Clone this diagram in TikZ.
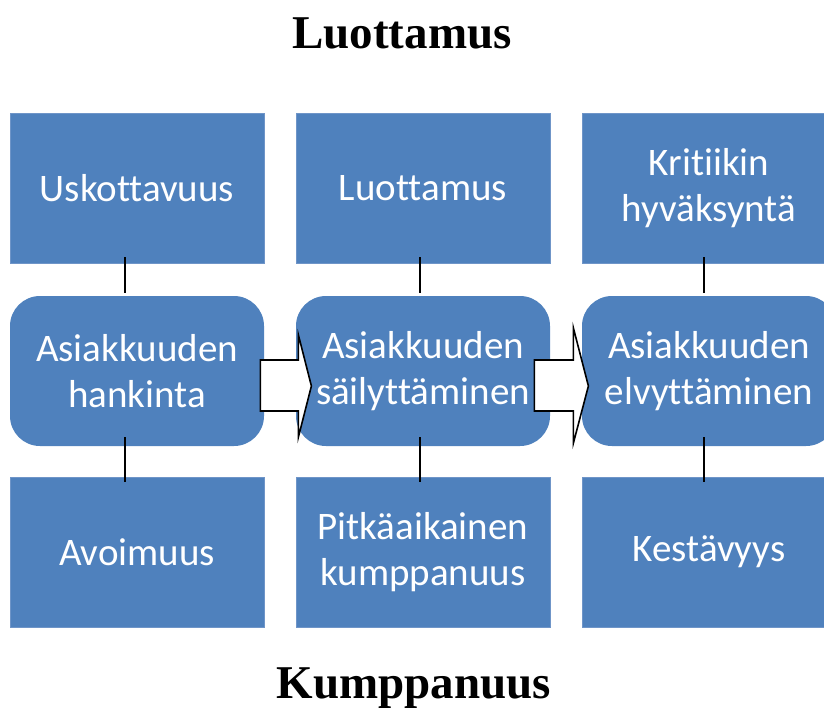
\documentclass[tikz,border=0pt]{standalone}
\usepackage{fontspec}
\setmainfont{Liberation Serif}
\newfontfamily\boxfont[Ligatures={NoCommon}]{Carlito}
\usetikzlibrary{calc}
\definecolor{boxblue}{HTML}{4F81BD}
\definecolor{boxedge}{HTML}{6F95C8}
\tikzset{
  sqbox/.style={fill=boxblue, draw=boxedge, line width=0.8pt, minimum width=254pt, minimum height=150pt,
    inner sep=0pt, align=center, text=white, font=\boxfont\fontsize{39}{46}\selectfont},
  rdbox/.style={sqbox, draw=none, rounded corners=30pt},
  title/.style={font=\bfseries\fontsize{47}{52}\selectfont, anchor=base, inner sep=0pt},
  link/.style={line width=2pt, black},
  arrowshape/.style={fill=white, draw=black, line width=1.6pt, line join=miter}
}
\begin{document}
\begin{tikzpicture}[x=1pt, y=-1pt]
\useasboundingbox (0,0) rectangle (824,713);
\clip (0,0) rectangle (824,713);
% titles
\node[title] (ttop) at (402,48) {Luottamus};
\node[title] (tbot) at (414,698) {Kumppanuus};
% top boxes
\node[sqbox] (t1) at (137,188) {Uskottavuus};
\node[sqbox] (t2) at (423,188) {Luottamus};
\node[sqbox] (t3) at (709,188) {Kritiikin\\hyväksyntä};
% middle boxes
\node[rdbox] (m1) at (137,371) {Asiakkuuden\\hankinta};
\node[rdbox] (m2) at (423,371) {Asiakkuuden\\säilyttäminen};
\node[rdbox] (m3) at (709,371) {Asiakkuuden\\elvyttäminen};
% bottom boxes
\node[sqbox] (b1) at (137,552) {Avoimuus};
\node[sqbox] (b2) at (423,552) {Pitkäaikainen\\kumppanuus};
\node[sqbox] (b3) at (709,552) {Kestävyys};
% links
\draw[link] ([xshift=-12pt,yshift=6pt]t1.south) -- ([xshift=-12pt,yshift=3pt]m1.north);
\draw[link] ([xshift=-3pt,yshift=6pt]t2.south) -- ([xshift=-3pt,yshift=3pt]m2.north);
\draw[link] ([xshift=-5pt,yshift=6pt]t3.south) -- ([xshift=-5pt,yshift=3pt]m3.north);
\draw[link] ([xshift=-12pt,yshift=9pt]m1.south) -- ([xshift=-12pt,yshift=-5pt]b1.north);
\draw[link] ([xshift=-3pt,yshift=9pt]m2.south) -- ([xshift=-3pt,yshift=-5pt]b2.north);
\draw[link] ([xshift=-5pt,yshift=9pt]m3.south) -- ([xshift=-5pt,yshift=-5pt]b3.north);
% block arrows
\coordinate (a1) at (m1.east);
\draw[arrowshape] ($(a1)+(-4,-11)$) -- ($(a1)+(34,-11)$) -- ($(a1)+(34,-36)$) -- ($(a1)+(47,15)$)
  -- ($(a1)+(34,66)$) -- ($(a1)+(34,40)$) -- ($(a1)+(-4,40)$) -- cycle;
\coordinate (a2) at (m2.east);
\draw[arrowshape] ($(a2)+(-16,-11)$) -- ($(a2)+(23,-11)$) -- ($(a2)+(23,-43)$) -- ($(a2)+(38,15)$)
  -- ($(a2)+(23,72)$) -- ($(a2)+(23,40)$) -- ($(a2)+(-16,40)$) -- cycle;
\end{tikzpicture}
\end{document}
